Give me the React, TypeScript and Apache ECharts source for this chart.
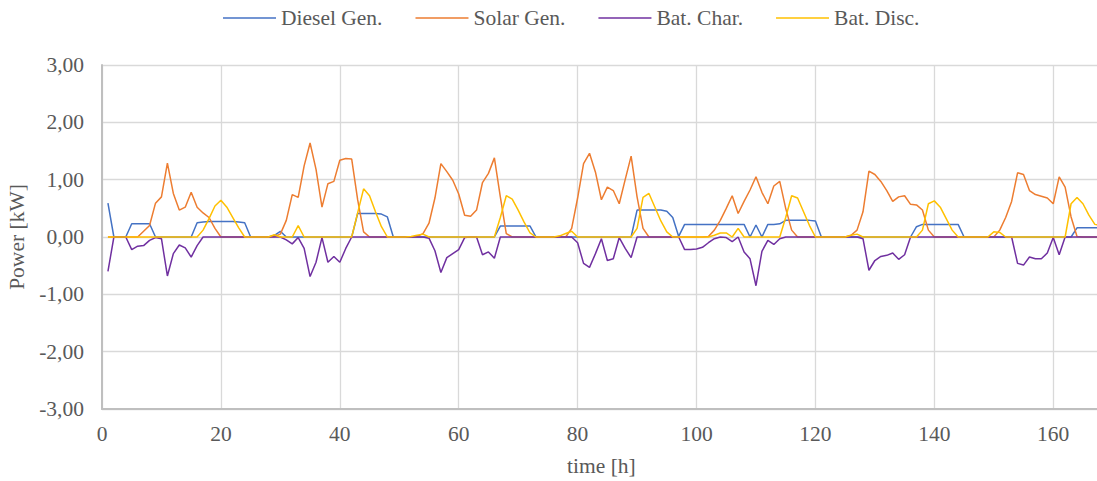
import React, { useEffect, useRef } from "react";
import * as echarts from "echarts";

// Hourly power balance over one week (hours 1..168), values in kW
const hours: number[] = Array.from({ length: 168 }, (_, i) => i + 1);

const dieselGen: number[] = [
  0.59, 0, 0, 0, 0.23, 0.23, 0.23, 0.23, 0, 0, 0, 0,
  0, 0, 0, 0.25, 0.26, 0.27, 0.27, 0.27, 0.27, 0.27, 0.26, 0.25,
  0, 0, 0, 0, 0.03, 0.1, 0, 0, 0, 0, 0, 0,
  0, 0, 0, 0, 0, 0, 0.41, 0.41, 0.41, 0.41, 0.4, 0.35,
  0, 0, 0, 0, 0, 0, 0, 0, 0, 0, 0, 0,
  0, 0, 0, 0, 0, 0, 0.19, 0.19, 0.19, 0.19, 0.19, 0.19,
  0, 0, 0, 0, 0, 0, 0, 0, 0, 0, 0, 0,
  0, 0, 0, 0, 0, 0.47, 0.47, 0.47, 0.47, 0.47, 0.45, 0.34,
  0.01, 0.22, 0.22, 0.22, 0.22, 0.22, 0.22, 0.22, 0.22, 0.22, 0.22, 0.22,
  0, 0.21, 0, 0.22, 0.22, 0.23, 0.29, 0.29, 0.29, 0.29, 0.29, 0.28,
  0, 0, 0, 0, 0, 0, 0, 0, 0, 0, 0, 0,
  0, 0, 0, 0, 0.18, 0.22, 0.22, 0.22, 0.22, 0.22, 0.22, 0.22,
  0, 0, 0, 0, 0, 0, 0, 0, 0, 0, 0, 0,
  0, 0, 0, 0, 0, 0, 0, 0.16, 0.16, 0.16, 0.16, 0.16,
];

const solarGen: number[] = [
  0, 0, 0, 0, 0, 0, 0.1, 0.2, 0.59, 0.7, 1.29, 0.76,
  0.47, 0.52, 0.78, 0.52, 0.42, 0.34, 0.15, 0, 0, 0, 0, 0,
  0, 0, 0, 0, 0.01, 0.05, 0.29, 0.74, 0.69, 1.24, 1.64, 1.18,
  0.52, 0.93, 0.97, 1.34, 1.37, 1.36, 0.65, 0.09, 0, 0, 0, 0,
  0, 0, 0, 0, 0.01, 0.06, 0.24, 0.68, 1.28, 1.14, 0.99, 0.75,
  0.38, 0.36, 0.47, 0.95, 1.11, 1.38, 0.7, 0.06, 0, 0, 0, 0,
  0, 0, 0, 0, 0, 0, 0.15, 0.68, 1.28, 1.46, 1.13, 0.65,
  0.87, 0.81, 0.58, 1.0, 1.41, 0.7, 0.15, 0, 0, 0, 0, 0,
  0, 0, 0, 0, 0, 0.01, 0.12, 0.29, 0.5, 0.72, 0.41, 0.62,
  0.82, 1.05, 0.78, 0.58, 0.89, 0.97, 0.5, 0.12, 0, 0, 0, 0,
  0, 0, 0, 0, 0, 0.03, 0.12, 0.44, 1.15, 1.09, 0.97, 0.81,
  0.62, 0.7, 0.72, 0.57, 0.56, 0.47, 0.12, 0, 0, 0, 0, 0,
  0, 0, 0, 0, 0, 0, 0.12, 0.34, 0.62, 1.12, 1.09, 0.81,
  0.74, 0.71, 0.68, 0.58, 1.05, 0.87, 0.35, 0.01, 0, 0, 0, 0,
];

const batCharge: number[] = [
  -0.6, 0, 0, 0, -0.22, -0.16, -0.15, -0.06, -0.01, -0.03, -0.68, -0.29,
  -0.14, -0.19, -0.35, -0.15, 0, 0, 0, 0, 0, 0, 0, 0,
  0, 0, 0, 0, 0, 0, -0.05, -0.12, -0.01, -0.2, -0.69, -0.44,
  -0.01, -0.44, -0.34, -0.44, -0.2, 0, 0, 0, 0, 0, 0, 0,
  0, 0, 0, 0, 0, 0, -0.02, -0.24, -0.62, -0.36, -0.29, -0.22,
  -0.01, 0, 0, -0.31, -0.26, -0.37, 0, 0, 0, 0, 0, 0,
  0, 0, 0, 0, 0, 0, 0, -0.1, -0.46, -0.53, -0.29, -0.03,
  -0.41, -0.38, -0.01, -0.2, -0.36, 0, 0, 0, 0, 0, 0, 0,
  0, -0.22, -0.22, -0.21, -0.18, -0.1, -0.03, 0, -0.01, -0.08, 0, -0.26,
  -0.38, -0.85, -0.25, -0.06, -0.13, -0.03, 0, 0, 0, 0, 0, 0,
  0, 0, 0, 0, 0, 0, 0, -0.03, -0.58, -0.41, -0.34, -0.32,
  -0.28, -0.39, -0.31, 0, 0, 0, 0, 0, 0, 0, 0, 0,
  0, 0, 0, 0, 0, 0, 0, 0, 0, -0.46, -0.49, -0.35,
  -0.38, -0.38, -0.28, -0.01, -0.31, 0, 0, 0, 0, 0, 0, 0,
];

const batDischarge: number[] = [
  0, 0, 0, 0, 0, 0, 0, 0, 0, 0, 0, 0,
  0, 0, 0, 0, 0.12, 0.32, 0.54, 0.64, 0.52, 0.34, 0.16, 0,
  0, 0, 0, 0, 0.04, 0, 0, 0, 0.2, 0, 0, 0,
  0, 0, 0, 0, 0, 0, 0.42, 0.84, 0.72, 0.44, 0.18, 0,
  0, 0, 0, 0.01, 0.03, 0.05, 0, 0, 0, 0, 0, 0,
  0, 0, 0, 0, 0, 0, 0.34, 0.72, 0.66, 0.47, 0.26, 0.07,
  0, 0, 0, 0, 0.02, 0.06, 0.1, 0, 0, 0, 0, 0,
  0, 0, 0, 0, 0, 0.15, 0.69, 0.76, 0.52, 0.28, 0.09, 0,
  0, 0, 0, 0, 0, 0, 0.03, 0.07, 0.07, 0, 0.15, 0,
  0, 0, 0, 0, 0, 0, 0.34, 0.72, 0.68, 0.44, 0.2, 0,
  0, 0, 0, 0, 0, 0.03, 0.05, 0, 0, 0, 0, 0,
  0, 0, 0, 0, 0, 0.12, 0.58, 0.63, 0.52, 0.32, 0.12, 0,
  0, 0, 0, 0, 0, 0.09, 0.08, 0, 0, 0, 0, 0,
  0, 0, 0, 0, 0, 0, 0.58, 0.69, 0.58, 0.38, 0.22, 0.2,
];

const seriesNames = ["Diesel Gen.", "Solar Gen.", "Bat. Char.", "Bat. Disc."];
const seriesColors = ["#4472C4", "#ED7D31", "#7030A0", "#FFC000"];
const seriesValues = [dieselGen, solarGen, batCharge, batDischarge];

const FONT = "'Liberation Serif', 'Times New Roman', Times, serif";
const FONT_SIZE = 21.5;
const TEXT_COLOR = "#595959";

export default function App() {
  const ref = useRef<HTMLDivElement>(null);

  useEffect(() => {
    if (!ref.current) return;
    const chart = echarts.init(ref.current, undefined, { renderer: "svg" });

    chart.setOption({
      animation: false,
      textStyle: { fontFamily: FONT, color: TEXT_COLOR },
      legend: {
        data: seriesNames,
        left: 218,
        top: 2,
        icon: "rect",
        itemWidth: 53,
        itemHeight: 1.5,
        itemGap: 33,
        textStyle: { fontFamily: FONT, fontSize: FONT_SIZE, color: TEXT_COLOR },
      },
      grid: {
        left: 102,
        top: 65,
        height: 344,
        width: 998.8,
        containLabel: false,
        outerBoundsMode: "none",
      },
      xAxis: {
        type: "value",
        min: 0,
        max: 168,
        interval: 20,
        name: "time [h]",
        nameLocation: "middle",
        nameGap: 46,
        nameTextStyle: { fontFamily: FONT, fontSize: FONT_SIZE, color: TEXT_COLOR },
        axisLine: { onZero: false, lineStyle: { color: "#bfbfbf", width: 2 } },
        axisTick: { show: false },
        axisLabel: {
          margin: 14,
          fontFamily: FONT,
          fontSize: FONT_SIZE,
          color: TEXT_COLOR,
          showMaxLabel: false,
          formatter: (v: number) => (v % 20 === 0 ? String(v) : ""),
        },
        splitLine: { show: true, lineStyle: { color: "#d9d9d9", width: 1.3 } },
      },
      yAxis: {
        type: "value",
        min: -3,
        max: 3,
        interval: 1,
        name: "Power [kW]",
        nameLocation: "middle",
        nameGap: 69,
        nameTextStyle: { fontFamily: FONT, fontSize: FONT_SIZE, color: TEXT_COLOR },
        axisLine: { show: true, lineStyle: { color: "#bfbfbf", width: 2 } },
        axisTick: { show: false },
        axisLabel: {
          margin: 18,
          fontFamily: FONT,
          fontSize: FONT_SIZE,
          color: TEXT_COLOR,
          formatter: (v: number) => v.toFixed(2).replace(".", ","),
        },
        splitLine: { show: true, lineStyle: { color: "#d9d9d9", width: 1.3 } },
      },
      series: seriesNames.map((name, i) => ({
        name,
        type: "line",
        symbol: "none",
        color: seriesColors[i],
        lineStyle: { width: 1.5, color: seriesColors[i] },
        data: hours.map((h, k) => [h, seriesValues[i][k]]),
      })),
    });

    return () => chart.dispose();
  }, []);

  return (
    <div
      ref={ref}
      style={{ position: "fixed", left: 0, top: 0, width: 1097, height: 481, background: "#fff" }}
    />
  );
}
